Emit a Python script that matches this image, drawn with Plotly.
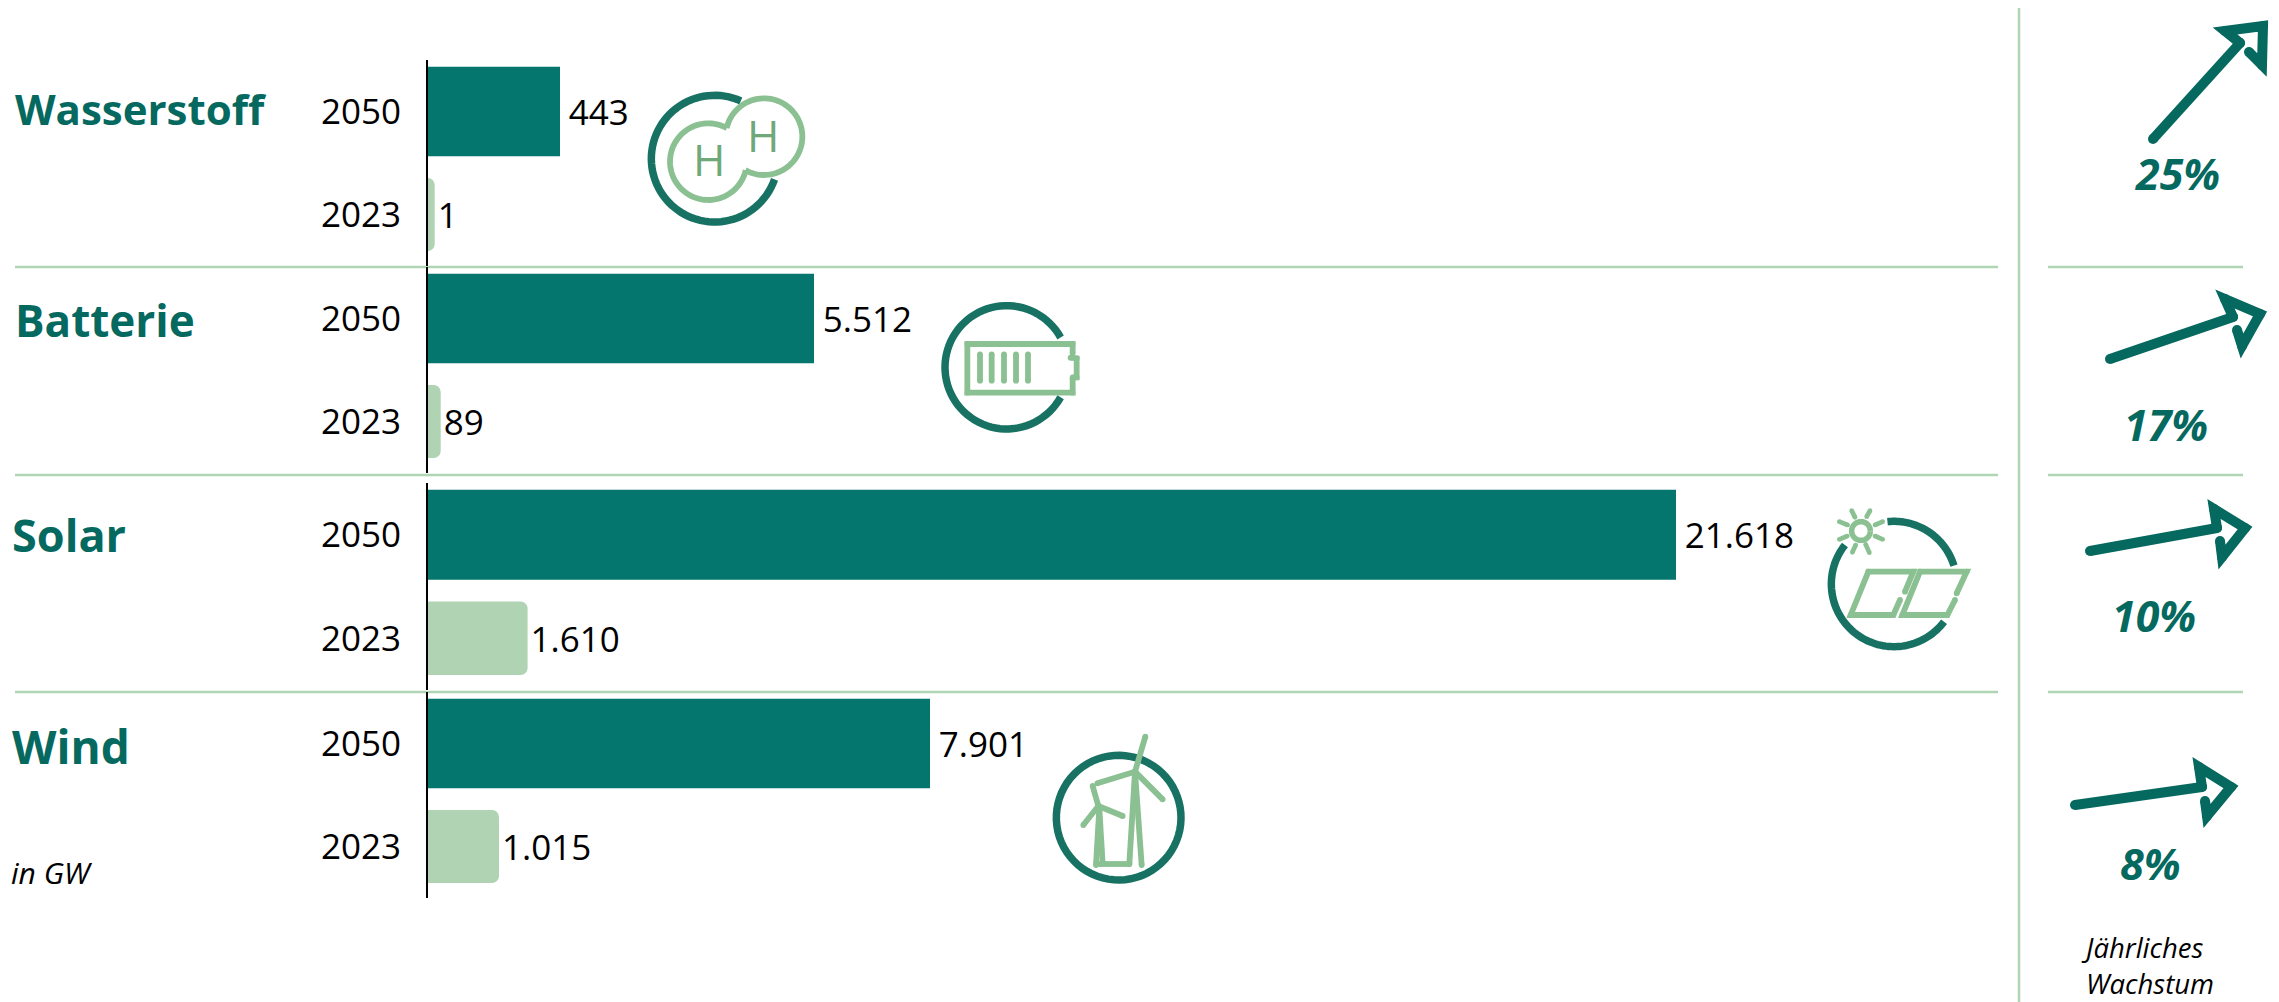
import math
import plotly.graph_objects as go

W, H = 2279, 1002
PAGE_MARGIN = 8  # browser's default body margin around the plot

# ---------- data ----------
technologies = ["Wasserstoff", "Batterie", "Solar", "Wind"]
years = ["2050", "2023"]
# printed values (GW)
labels_2050 = ["443", "5.512", "21.618", "7.901"]
labels_2023 = ["1", "89", "1.610", "1.015"]
# bar lengths as drawn in the source (the source's bars are not proportional to the printed values)
drawn_2050 = [133, 387, 1249, 503]
drawn_2023 = [7.7, 13.7, 100.6, 72]
growth = ["25%", "17%", "10%", "8%"]

# ---------- styling ----------
TEAL = "#04766E"
TEAL_TEXT = "#05695F"
PALE = "#AFD3B3"
RULE = "#B0D5B5"
RING = "#187263"
LEAF = "#8BC192"
HTXT = "#6FA97A"
FONT = "Open Sans"
AXIS_LEFT = 428
row_spans = [(60, 266), (267, 473), (483, 690), (692, 898)]
RING_W = 7.5
LEAF_W = 5.8


def X(x):
    return (x - PAGE_MARGIN) / (W - PAGE_MARGIN)


def Y(y):
    return 1 - (y - PAGE_MARGIN) / (H - PAGE_MARGIN)


shapes = []
annotations = []


def stroke(pts, width, color, round_ends=True):
    path = "M " + " L ".join(f"{X(x):.5f},{Y(y):.5f}" for x, y in pts)
    shapes.append(dict(type="path", xref="paper", yref="paper", path=path,
                       line=dict(color=color, width=width), fillcolor="rgba(0,0,0,0)"))
    if round_ends:
        r = width / 2
        for x, y in pts:
            shapes.append(dict(type="circle", xref="paper", yref="paper",
                               x0=X(x - r), x1=X(x + r), y0=Y(y + r), y1=Y(y - r),
                               fillcolor=color, line=dict(width=0)))


def arc(cx, cy, r, a0, a1, n=72):
    return [(cx + r * math.cos(math.radians(a0 + (a1 - a0) * i / n)),
             cy - r * math.sin(math.radians(a0 + (a1 - a0) * i / n))) for i in range(n + 1)]


def zoomed(x0, y0, pts):
    return [(x0 + x / 3, y0 + y / 3) for x, y in pts]


def text(s, x, y, size, color="#000000", bold=False, italic=False, anchor="left"):
    t = f"<b>{s}</b>" if bold else s
    t = f"<i>{t}</i>" if italic else t
    annotations.append(dict(text=t, x=X(x), y=Y(y), xref="paper", yref="paper", showarrow=False,
                            xanchor=anchor, yanchor="middle", align="left",
                            font=dict(family=FONT, size=size, color=color)))


# ---------- rules ----------
for yy in (267, 475, 692):
    shapes.append(dict(type="line", xref="paper", yref="paper", x0=X(15), x1=X(1998), y0=Y(yy), y1=Y(yy),
                       line=dict(color=RULE, width=2.5), layer="below"))
    shapes.append(dict(type="line", xref="paper", yref="paper", x0=X(2048), x1=X(2243), y0=Y(yy), y1=Y(yy),
                       line=dict(color=RULE, width=2.5), layer="below"))
shapes.append(dict(type="line", xref="paper", yref="paper", x0=X(2019), x1=X(2019), y0=Y(5), y1=Y(1002),
                   line=dict(color=RULE, width=2.5), layer="below"))

# ---------- bars ----------
fig = go.Figure()
axes = {}
GAP = "\u2009"
for i, (top, bottom) in enumerate(row_spans):
    sfx = "" if i == 0 else str(i + 1)
    xa, ya = "x" + sfx, "y" + sfx
    fig.add_trace(go.Bar(y=[years[0]], x=[drawn_2050[i]], orientation="h", width=0.87,
                         text=[GAP + labels_2050[i]], textposition="outside", cliponaxis=False,
                         textfont=dict(family=FONT, size=35, color="#000"),
                         marker=dict(color=TEAL, line=dict(width=0)),
                         xaxis=xa, yaxis=ya, showlegend=False, name="2050"))
    fig.add_trace(go.Bar(y=[years[1]], x=[drawn_2023[i]], orientation="h", width=0.71,
                         text=[labels_2023[i]], textposition="outside", cliponaxis=False,
                         textfont=dict(family=FONT, size=35, color="#000"),
                         marker=dict(color=PALE, line=dict(width=0), cornerradius=7),
                         xaxis=xa, yaxis=ya, showlegend=False, name="2023"))
    axes["xaxis" + sfx] = dict(domain=[X(AXIS_LEFT), 1], range=[1, W - AXIS_LEFT + 1], visible=False,
                               anchor=ya, fixedrange=True)
    axes["yaxis" + sfx] = dict(domain=[Y(bottom), Y(top)], type="category", categoryorder="array",
                               categoryarray=years, range=[1.5, -0.5], anchor=xa,
                               showline=True, linecolor="#000", linewidth=2, showgrid=False, zeroline=False,
                               ticks="outside", ticklen=18, tickcolor="rgba(0,0,0,0)",
                               tickfont=dict(family=FONT, size=35, color="#000"), fixedrange=True)

# ---------- row titles and growth text ----------
title_places = [(13, 108), (13, 320), (10, 534), (10, 746)]
title_sizes = [42, 44, 45, 46]
for name, (xx, yy), sz in zip(technologies, title_places, title_sizes):
    text(name, xx, yy, sz, TEAL_TEXT, bold=True)
text("in GW", 9, 872, 30, italic=True)
for g, (xx, yy) in zip(growth, [(2177, 174), (2166, 424), (2154, 615), (2150, 863)]):
    text(g, xx, yy, 43, TEAL_TEXT, bold=True, italic=True, anchor="center")
text("Jährliches<br>Wachstum", 2079, 965, 27.5, italic=True)

# ---------- growth arrows ----------
ARW = 10
arrow_shafts = [[(2153, 139), (2240, 43)], [(2110, 359), (2233, 317)],
                [(2090, 551), (2217, 528)], [(2075, 805), (2202, 787)]]
arrow_heads = [[(2240, 43), (2225, 31), (2263, 26), (2262, 65), (2249, 52)],
               [(2233, 317), (2225, 299), (2260, 314), (2242, 346), (2237, 330)],
               [(2217, 528), (2214, 509), (2245, 528), (2222, 557), (2220, 541)],
               [(2202, 787), (2199, 767), (2231, 787), (2207, 816), (2205, 801)]]
for s, h in zip(arrow_shafts, arrow_heads):
    stroke(s, ARW, TEAL_TEXT)
    stroke(h, ARW, TEAL_TEXT)

# ---------- icon: hydrogen ----------
ox, oy = 640, 85
stroke(zoomed(ox, oy, arc(224, 221, 190, 65.6, 341)), RING_W, RING, round_ends=False)
stroke(zoomed(ox, oy, arc(205, 230, 115, 61, 347)), LEAF_W, LEAF, round_ends=False)
stroke(zoomed(ox, oy, arc(372, 155, 115, 241, 527)), LEAF_W, LEAF, round_ends=False)
text("H", 640 + 208 / 3, 85 + 222 / 3, 44, HTXT, anchor="center")
text("H", 640 + 370 / 3, 85 + 150 / 3, 44, HTXT, anchor="center")

# ---------- icon: battery ----------
ox, oy = 920, 290
stroke(zoomed(ox, oy, arc(260, 232, 185, 29, 331)), RING_W, RING, round_ends=False)
stroke(zoomed(ox, oy, [(458, 190), (458, 162), (142, 162), (142, 308), (458, 308), (458, 265)]), LEAF_W, LEAF)
stroke(zoomed(ox, oy, [(452, 203), (470, 205), (470, 262), (458, 262)]), LEAF_W, LEAF)
for bx in (180, 215, 252, 288, 324):
    stroke(zoomed(ox, oy, [(bx, 193), (bx, 272)]), LEAF_W, LEAF)

# ---------- icon: solar ----------
ox, oy = 1810, 500
stroke(zoomed(ox, oy, arc(252, 252, 188, 96, 17)), RING_W, RING, round_ends=False)
stroke(zoomed(ox, oy, arc(252, 252, 188, -37, -218.5)), RING_W, RING, round_ends=False)
stroke(zoomed(ox, oy, arc(153, 93, 28, 0, 360)), 5.5, LEAF, round_ends=False)
for seg in [[(125, 32), (135, 52)], [(180, 32), (170, 50)], [(218, 65), (195, 75)], [(218, 118), (195, 108)],
            [(178, 158), (167, 133)], [(127, 157), (137, 135)], [(88, 118), (112, 108)], [(88, 65), (113, 75)]]:
    stroke(zoomed(ox, oy, seg), 4.7, LEAF)
stroke(zoomed(ox, oy, [(285, 275), (310, 215), (175, 215), (122, 345), (250, 345), (270, 300)]), LEAF_W, LEAF)
stroke(zoomed(ox, oy, [(440, 280), (470, 215), (330, 215), (277, 345), (412, 345), (435, 300)]), LEAF_W, LEAF)

# ---------- icon: wind ----------
ox, oy = 1040, 720
stroke(zoomed(ox, oy, arc(236, 293, 187, 77, -297)), RING_W, RING, round_ends=False)
for seg in [[(285, 155), (316, 50)], [(285, 155), (172, 190)], [(285, 155), (368, 238)],
            [(285, 155), (268, 432)], [(285, 155), (305, 435)], [(180, 432), (268, 432)],
            [(175, 258), (158, 198)], [(175, 258), (130, 315)], [(175, 258), (248, 288)],
            [(178, 265), (168, 435)], [(178, 265), (188, 432)]]:
    stroke(zoomed(ox, oy, seg), LEAF_W, LEAF)

fig.update_layout(width=W - PAGE_MARGIN, height=H - PAGE_MARGIN, margin=dict(l=0, r=0, t=0, b=0), autosize=False,
                  paper_bgcolor="#FFFFFF", plot_bgcolor="rgba(0,0,0,0)", barmode="overlay",
                  showlegend=False, shapes=shapes, annotations=annotations,
                  font=dict(family=FONT), **axes)

fig.write_html("out.html", config=dict(displayModeBar=False))
